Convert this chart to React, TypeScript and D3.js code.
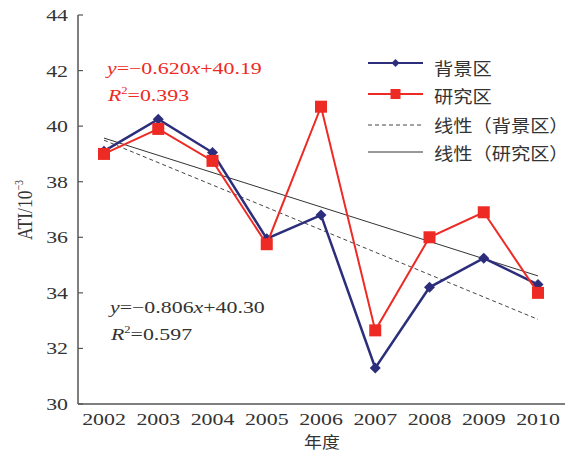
import React from "react";
import * as d3 from "d3";

const years = [2002, 2003, 2004, 2005, 2006, 2007, 2008, 2009, 2010];
const background = [39.1, 40.25, 39.05, 35.95, 36.8, 31.3, 34.2, 35.25, 34.3];
const study = [39.0, 39.9, 38.75, 35.75, 40.7, 32.65, 36.0, 36.9, 34.0];
const yTicks = [30, 32, 34, 36, 38, 40, 42, 44];
const fitBackground = { slope: -0.806, intercept: 40.3, r2: "0.597", eq: "0.806", b: "40.30" };
const fitStudy = { slope: -0.62, intercept: 40.19, r2: "0.393", eq: "0.620", b: "40.19" };
const legendLabels = ["背景区", "研究区", "线性（背景区）", "线性（研究区）"];

const BLUE = "#2c2e7c";
const RED = "#ee2a24";
const AXIS = "#555";
const SERIF = "'Liberation Serif', 'Times New Roman', serif";
const CJK = "'Noto Sans CJK SC', sans-serif";
const SX = 1.25;

export default function App() {
  const x = d3.scaleLinear().domain([2002, 2010]).range([104, 538]);
  const y = d3.scaleLinear().domain([30, 44]).range([404, 15]);
  const line = d3
    .line<number>()
    .x((_, i) => x(years[i]))
    .y((d) => y(d));

  const fitY = (f: typeof fitStudy, yr: number) => f.intercept + f.slope * (yr - 2001);

  const diamond = (cx: number, cy: number, r: number) =>
    `M${cx},${cy - r}L${cx + r},${cy}L${cx},${cy + r}L${cx - r},${cy}Z`;

  const stretched = (
    key: string,
    tx: number,
    ty: number,
    content: React.ReactNode,
    opts: { size?: number; anchor?: string; fill?: string } = {}
  ) => (
    <text
      key={key}
      transform={`translate(${tx},${ty}) scale(${SX},1)`}
      textAnchor={opts.anchor || "start"}
      fontFamily={SERIF}
      fontSize={opts.size || 17.5}
      fill={opts.fill || "#333"}
    >
      {content}
    </text>
  );

  const eq = (f: typeof fitStudy, tx: number, ty: number, color: string, key: string) => (
    <g key={key}>
      {stretched(
        key + "a",
        tx,
        ty,
        <>
          <tspan fontStyle="italic">y</tspan>
          <tspan>{"=\u2212" + f.eq}</tspan>
          <tspan fontStyle="italic">x</tspan>
          <tspan>{"+" + f.b}</tspan>
        </>,
        { fill: color }
      )}
      {stretched(
        key + "b",
        tx + 1,
        ty + 27,
        <>
          <tspan fontStyle="italic">R</tspan>
          <tspan fontSize={10} dy={-7}>2</tspan>
          <tspan dy={7}>{"=" + f.r2}</tspan>
        </>,
        { fill: color }
      )}
    </g>
  );

  const legendX1 = 368;
  const legendX2 = 423;
  const legendRows = [63, 94, 125, 152];
  const legendText = [67, 95, 124, 152];

  return (
    <svg width={572} height={454} style={{ position: "absolute", left: 0, top: 0, background: "#fff" }}>
      {/* axes */}
      <line x1={78} y1={15} x2={78} y2={404} stroke={AXIS} strokeWidth={1.5} />
      <line x1={78} y1={404} x2={565} y2={404} stroke={AXIS} strokeWidth={1.5} />
      {yTicks.map((t) => (
        <g key={t}>
          <line x1={78} x2={83} y1={y(t)} y2={y(t)} stroke={AXIS} strokeWidth={1.2} />
          {stretched("yt" + t, 68, y(t) + 6, String(t), { anchor: "end" })}
        </g>
      ))}
      {years.map((yr) => stretched("xt" + yr, x(yr), 425, String(yr), { anchor: "middle" }))}
      <text
        transform={`translate(322,448) scale(1.12,1)`}
        textAnchor="middle"
        fontFamily={CJK}
        fontSize={16}
        fill="#333"
      >
        年度
      </text>
      <text
        transform={`translate(32,210) rotate(-90) scale(1,${SX})`}
        textAnchor="middle"
        fontFamily={SERIF}
        fontSize={17.5}
        fill="#333"
      >
        ATI/10
        <tspan fontSize={10} dy={-7}>−3</tspan>
      </text>

      {/* trend lines */}
      <line
        x1={x(2002)}
        y1={y(fitY(fitBackground, 2002))}
        x2={x(2010)}
        y2={y(fitY(fitBackground, 2010))}
        stroke="#444"
        strokeWidth={1}
        strokeDasharray="4,3"
      />
      <line
        x1={x(2002)}
        y1={y(fitY(fitStudy, 2002))}
        x2={x(2010)}
        y2={y(fitY(fitStudy, 2010))}
        stroke="#333"
        strokeWidth={1}
      />

      {/* series */}
      <path d={line(background) || ""} fill="none" stroke={BLUE} strokeWidth={2.5} />
      {background.map((v, i) => (
        <path key={"b" + i} d={diamond(x(years[i]), y(v), 5.5)} fill={BLUE} />
      ))}
      <path d={line(study) || ""} fill="none" stroke={RED} strokeWidth={2} />
      {study.map((v, i) => (
        <rect key={"s" + i} x={x(years[i]) - 6} y={y(v) - 6} width={12} height={12} fill={RED} />
      ))}

      {/* equations */}
      {eq(fitStudy, 107, 74, RED, "eqs")}
      {eq(fitBackground, 110, 313, "#333", "eqb")}

      {/* legend */}
      <line x1={legendX1} x2={legendX2} y1={legendRows[0]} y2={legendRows[0]} stroke={BLUE} strokeWidth={2} />
      <path d={diamond((legendX1 + legendX2) / 2, legendRows[0], 4)} fill={BLUE} />
      <line x1={legendX1} x2={legendX2} y1={legendRows[1]} y2={legendRows[1]} stroke={RED} strokeWidth={2} />
      <rect x={(legendX1 + legendX2) / 2 - 5} y={legendRows[1] - 5} width={10} height={10} fill={RED} />
      <line
        x1={legendX1}
        x2={legendX2}
        y1={legendRows[2]}
        y2={legendRows[2]}
        stroke="#444"
        strokeWidth={1}
        strokeDasharray="4,3"
      />
      <line x1={legendX1} x2={legendX2} y1={legendRows[3]} y2={legendRows[3]} stroke="#333" strokeWidth={1} />
      {legendLabels.map((l, i) => (
        <text
          key={l}
          transform={`translate(434,${legendText[i]}) scale(1.1,1)`}
          dominantBaseline="central"
          fontFamily={CJK}
          fontSize={17.5}
          fill="#333"
        >
          {l}
        </text>
      ))}
    </svg>
  );
}
